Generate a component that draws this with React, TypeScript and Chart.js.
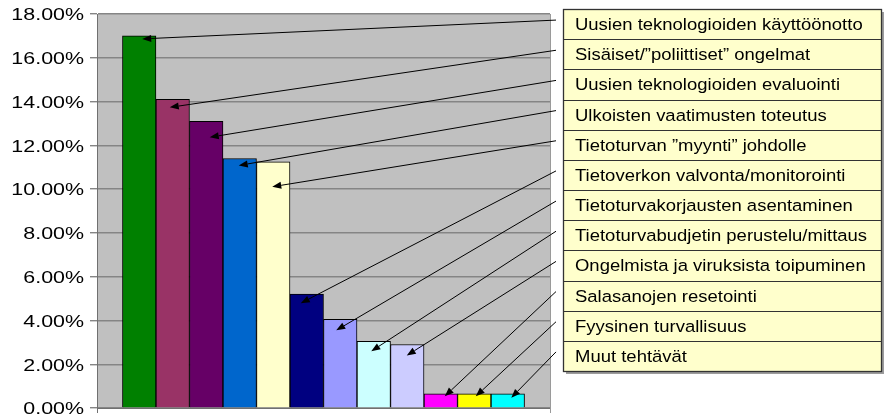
import { useEffect, useRef } from "react";
import { Chart, registerables } from "chart.js";

Chart.register(...registerables);

// ---- data ----
const categories = [
  "Uusien teknologioiden käyttöönotto",
  "Sisäiset/\u201dpoliittiset\u201d ongelmat",
  "Uusien teknologioiden evaluointi",
  "Ulkoisten vaatimusten toteutus",
  "Tietoturvan \u201dmyynti\u201d johdolle",
  "Tietoverkon valvonta/monitorointi",
  "Tietoturvakorjausten asentaminen",
  "Tietoturvabudjetin perustelu/mittaus",
  "Ongelmista ja viruksista toipuminen",
  "Salasanojen resetointi",
  "Fyysinen turvallisuus",
  "Muut tehtävät",
];

const percentages = [17.0, 14.1, 13.1, 11.4, 11.25, 5.2, 4.05, 3.05, 2.9, 0.65, 0.65, 0.65];

const yTickValues = [0, 2, 4, 6, 8, 10, 12, 14, 16, 18];

// ---- styles ----
const barColors = [
  "#008000",
  "#993366",
  "#660066",
  "#0066CC",
  "#FFFFCC",
  "#000080",
  "#9999FF",
  "#CCFFFF",
  "#CCCCFF",
  "#FF00FF",
  "#FFFF00",
  "#00FFFF",
];

// arrow tip offset relative to bar top-centre (px)
const tipOffsets: [number, number][] = [
  [3, 3],
  [-3, 8],
  [3.5, 16],
  [-1, 7],
  [-1, 25],
  [-6, 9],
  [-4, 11],
  [-2.5, 10],
  [-0.5, 11],
  [4, 2.5],
  [1.5, 2.5],
  [3.5, 4],
];

const FONT = "'Liberation Sans', Arial, Helvetica, sans-serif";
const BOX = { left: 563, top: 9, right: 881, bottom: 371 };

const drawPlugin = {
  id: "customDraw",
  beforeDraw(chart: any) {
    const { ctx, chartArea: a } = chart;
    ctx.save();
    ctx.fillStyle = "#C0C0C0";
    ctx.fillRect(a.left, a.top, a.right - a.left, a.bottom - a.top);
    ctx.restore();
  },
  afterDraw(chart: any) {
    const { ctx, chartArea: a } = chart;
    const yScale = chart.scales.y;

    // right plot border and x-axis end ticks
    ctx.save();
    ctx.strokeStyle = "#9a9a9a";
    ctx.lineWidth = 1;
    ctx.beginPath();
    ctx.moveTo(Math.round(a.right) + 0.5, a.top);
    ctx.lineTo(Math.round(a.right) + 0.5, a.bottom + 5);
    ctx.stroke();
    ctx.strokeStyle = "#707070";
    ctx.beginPath();
    ctx.moveTo(Math.round(a.left) + 0.5, a.bottom);
    ctx.lineTo(Math.round(a.left) + 0.5, a.bottom + 5);
    ctx.stroke();
    ctx.restore();

    // y tick labels (horizontally stretched like the source)
    ctx.save();
    ctx.fillStyle = "#000";
    ctx.font = `17px ${FONT}`;
    ctx.textAlign = "right";
    ctx.textBaseline = "alphabetic";
    for (const v of yTickValues) {
      const py = yScale.getPixelForValue(v);
      ctx.save();
      ctx.translate(a.left - 13, py + 6.3);
      ctx.scale(1.26, 1);
      ctx.fillText(v.toFixed(2) + "%", 0, 0);
      ctx.restore();
    }
    ctx.restore();

    // legend box with shadow
    const rowH = (BOX.bottom - BOX.top) / categories.length;
    ctx.save();
    ctx.fillStyle = "#9c9c9c";
    ctx.fillRect(BOX.left + 3, BOX.top + 3, BOX.right - BOX.left, BOX.bottom - BOX.top);
    ctx.fillStyle = "#FFFFCC";
    ctx.fillRect(BOX.left, BOX.top, BOX.right - BOX.left, BOX.bottom - BOX.top);
    ctx.strokeStyle = "#333";
    ctx.lineWidth = 1;
    for (let i = 1; i < categories.length; i++) {
      const yy = Math.round(BOX.top + i * rowH) + 0.5;
      ctx.beginPath();
      ctx.moveTo(BOX.left, yy);
      ctx.lineTo(BOX.right, yy);
      ctx.stroke();
    }
    ctx.lineWidth = 1.3;
    ctx.strokeRect(BOX.left + 0.5, BOX.top + 0.5, BOX.right - BOX.left, BOX.bottom - BOX.top);
    ctx.fillStyle = "#000";
    ctx.font = `16.3px ${FONT}`;
    ctx.textAlign = "left";
    ctx.textBaseline = "alphabetic";
    categories.forEach((label, i) => {
      const cy = BOX.top + (i + 0.5) * rowH;
      ctx.save();
      ctx.translate(BOX.left + 12, cy + 6);
      ctx.scale(1.135, 1);
      ctx.fillText(label, 0, 0);
      ctx.restore();
    });
    ctx.restore();

    // callout arrows
    const meta = chart.getDatasetMeta(0);
    ctx.save();
    ctx.strokeStyle = "#000";
    ctx.fillStyle = "#000";
    ctx.lineWidth = 1;
    meta.data.forEach((bar: any, i: number) => {
      const sx = BOX.left - 7;
      const sy = BOX.top + (i + 0.5) * rowH - 4;
      const tx = bar.x + tipOffsets[i][0];
      const ty = bar.y + tipOffsets[i][1];
      const ang = Math.atan2(sy - ty, sx - tx);
      const hl = 9;
      const hw = 3.5;
      const bx = tx + Math.cos(ang) * hl;
      const by = ty + Math.sin(ang) * hl;
      ctx.beginPath();
      ctx.moveTo(sx, sy);
      ctx.lineTo(bx, by);
      ctx.stroke();
      ctx.beginPath();
      ctx.moveTo(tx, ty);
      ctx.lineTo(bx - Math.sin(ang) * hw, by + Math.cos(ang) * hw);
      ctx.lineTo(bx + Math.sin(ang) * hw, by - Math.cos(ang) * hw);
      ctx.closePath();
      ctx.fill();
    });
    ctx.restore();
  },
};

export default function App() {
  const canvasRef = useRef<HTMLCanvasElement | null>(null);

  useEffect(() => {
    document.body.style.margin = "0";
    const canvas = canvasRef.current;
    if (!canvas) return;
    const chart = new Chart(canvas, {
      type: "bar",
      data: {
        labels: categories,
        datasets: [
          {
            data: percentages.map((v, i) => ({ x: i, y: v })) as any,
            backgroundColor: barColors,
            borderColor: "#000",
            borderWidth: 1,
            barPercentage: 1,
            categoryPercentage: 1,
          },
        ],
      },
      options: {
        responsive: false,
        animation: false,
        events: [],
        layout: { padding: { left: 90, right: 335, top: 14, bottom: 9 } },
        plugins: { legend: { display: false }, tooltip: { enabled: false }, title: { display: false } },
        scales: {
          x: {
            type: "linear",
            min: -1.26,
            max: 12.26,
            offset: false,
            ticks: { display: false, stepSize: 1 },
            grid: { display: false, offset: false, drawTicks: false },
            border: { display: true, color: "#707070", width: 1 },
          },
          y: {
            min: 0,
            max: 18,
            ticks: { display: false, stepSize: 2 },
            grid: {
              color: "#858585",
              lineWidth: 1.4,
              drawTicks: true,
              tickLength: 7,
            },
            border: { display: true, color: "#707070", width: 1 },
          },
        },
      },
      plugins: [drawPlugin],
    });
    return () => chart.destroy();
  }, []);

  return (
    <div style={{ width: 885, height: 417, background: "#fff" }}>
      <canvas ref={canvasRef} width={885} height={417} style={{ display: "block" }} />
    </div>
  );
}
